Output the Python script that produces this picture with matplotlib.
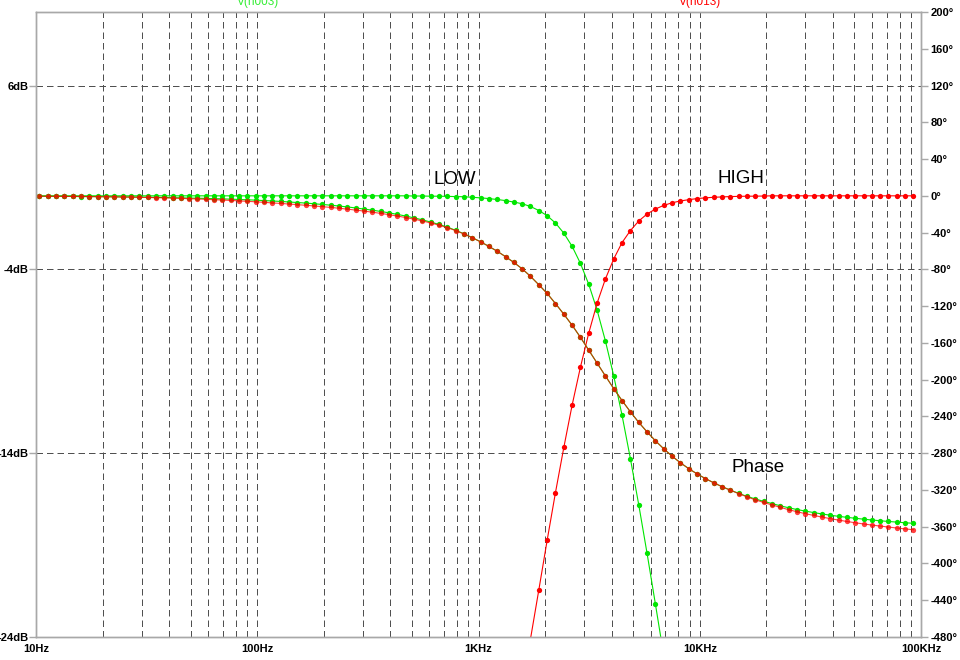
import matplotlib
matplotlib.use("Agg")
import matplotlib.pyplot as plt
from matplotlib.ticker import FixedLocator, NullFormatter

# AC sweep points (8 per octave)
freq_hz = [
    10.35, 11.29, 12.31, 13.42, 14.64, 15.96, 17.41, 18.98,
    20.70, 22.57, 24.62, 26.84, 29.27, 31.92, 34.81, 37.96,
    41.40, 45.15, 49.23, 53.69, 58.55, 63.85, 69.63, 75.93,
    82.80, 90.29, 98.46, 107.4, 117.1, 127.7, 139.3, 151.9,
    165.6, 180.6, 196.9, 214.8, 234.2, 255.4, 278.5, 303.7,
    331.2, 361.2, 393.9, 429.6, 468.4, 510.8, 557.0, 607.4,
    662.4, 722.3, 787.7, 859.1, 936.8, 1022, 1114, 1215,
    1325, 1445, 1575, 1718, 1874, 2043, 2228, 2430,
    2650, 2890, 3151, 3436, 3747, 4086, 4456, 4859,
    5299, 5779, 6302, 6873, 7495, 8172, 8912, 9719,
    10598, 11558, 12604, 13745, 14989, 16345, 17825, 19438,
    21197, 23116, 25208, 27490, 29978, 32690, 35649, 38876,
    42394, 46231, 50416, 54980, 59955, 65380, 71298, 77752,
    84788, 92461,
]

# V(n003) - LOW output magnitude (dB), starts at first sweep point
low_db = [0.0] * 45 + [
    -0.01, -0.01, -0.02, -0.02, -0.03, -0.04, -0.05, -0.08, -0.11, -0.15,
    -0.20, -0.26, -0.34, -0.43, -0.58, -0.80, -1.08, -1.48, -2.03, -2.75,
    -3.68, -4.82, -6.22, -7.90, -9.80, -11.95, -14.30, -16.80, -19.45, -22.20,
    -25.0, -27.9,
]

# V(n013) - HIGH output magnitude (dB), ends at last sweep point
high_db = [
    -26.9, -24.1, -21.43, -18.74, -16.14, -13.69, -11.38, -9.31, -7.46, -5.84,
    -4.52, -3.43, -2.54, -1.89, -1.37, -0.99, -0.72, -0.52, -0.38, -0.28,
    -0.21, -0.15, -0.11, -0.08, -0.06, -0.04, -0.03, -0.02, -0.02, -0.01,
] + [0.0] * 18

# phase (degrees)
low_phase = [
    -0.5, -0.5, -0.6, -0.6, -0.7, -0.8, -0.8, -0.9, -1.0, -1.1,
    -1.2, -1.3, -1.4, -1.5, -1.7, -1.8, -2.0, -2.2, -2.4, -2.6,
    -2.8, -3.1, -3.3, -3.6, -4.0, -4.3, -4.7, -5.2, -5.6, -6.1,
    -6.7, -7.3, -7.9, -8.6, -9.4, -10.2, -11.1, -12.1, -13.2, -14.4,
    -15.6, -17.0, -18.5, -20.2, -22.0, -24.0, -26.1, -28.5, -31.1, -34.0,
    -37.5, -41.3, -45.5, -50.0, -55.0, -60.3, -66.2, -72.5, -79.4, -87.6,
    -96.8, -106.2, -117.2, -128.8, -140.8, -154.0, -168.0, -182.0, -196.0, -209.8,
    -222.8, -235.0, -246.5, -256.8, -266.5, -275.2, -283.2, -290.4, -296.8, -302.5,
    -307.6, -312.2, -316.4, -320.2, -323.7, -327.0, -329.8, -332.4, -334.8, -337.2,
    -339.4, -341.3, -343.0, -344.6, -346.1, -347.5, -348.7, -349.8, -350.8, -351.8,
    -352.7, -353.5, -354.3, -355.0, -355.7, -356.3,
]
high_phase = [
    -0.4, -0.5, -0.5, -0.6, -0.7, -0.7, -0.8, -0.9, -1.0, -1.1,
    -1.3, -1.4, -1.6, -1.8, -2.0, -2.2, -2.5, -2.8, -3.1, -3.4,
    -3.8, -4.2, -4.6, -5.0, -5.5, -6.0, -6.5, -7.1, -7.7, -8.3,
    -8.9, -9.6, -10.3, -11.0, -11.8, -12.6, -13.5, -14.5, -15.5, -16.6,
    -17.8, -19.1, -20.5, -22.0, -23.6, -25.4, -27.3, -29.5, -31.9, -34.6,
    -37.8, -41.5, -45.6, -50.1, -55.0, -60.3, -66.2, -72.5, -79.4, -87.6,
    -96.8, -106.2, -117.2, -128.8, -140.8, -154.0, -168.0, -182.0, -196.0, -209.8,
    -222.8, -235.0, -246.5, -256.8, -266.5, -275.2, -283.2, -290.4, -296.8, -302.5,
    -307.6, -312.2, -316.4, -320.3, -324.0, -327.5, -330.8, -333.6, -336.3, -338.9,
    -341.5, -343.7, -345.8, -347.7, -349.5, -351.2, -352.8, -354.3, -355.7, -357.0,
    -358.2, -359.3, -360.4, -361.4, -362.4, -363.3,
]

x_ticks = [10, 100, 1000, 10000, 100000]
x_labels = ["10Hz", "100Hz", "1KHz", "10KHz", "100KHz"]
db_ticks = [6, -4, -14, -24]
db_labels = ["6dB", "-4dB", "-14dB", "-24dB"]
deg_ticks = [200, 160, 120, 80, 40, 0, -40, -80, -120, -160, -200, -240,
             -280, -320, -360, -400, -440, -480]
deg_labels = [f"{d}\u00b0" for d in deg_ticks]

GREEN = "#00e600"
RED = "#ff0000"
FRAME = "#a8a8a8"
GRID = "#505050"

plt.rcParams['font.family'] = ['Liberation Sans', 'DejaVu Sans']

fig = plt.figure(figsize=(9.6, 6.6), dpi=100)
ax = fig.add_axes([36 / 960, 23 / 660, 885 / 960, 625 / 660])
ax.set_xscale('log')
ax.set_xlim(10, 100000)
ax.set_ylim(-24, 10)

minor = [m * 10 ** e for e in range(1, 5) for m in range(2, 10)]
ax.xaxis.set_major_locator(FixedLocator(x_ticks))
ax.set_xticklabels(x_labels)
ax.xaxis.set_minor_locator(FixedLocator(minor))
ax.xaxis.set_minor_formatter(NullFormatter())
ax.set_yticks(db_ticks, db_labels)

dash = (0, (6.5, 4.0))
ax.grid(which='both', axis='x', color=GRID, lw=0.72, ls=dash)
ax.grid(which='major', axis='y', color=GRID, lw=0.72, ls=dash)

ax.tick_params(axis='x', which='both', length=0, pad=5, labelsize=8)
ax.tick_params(axis='y', length=5, width=1, color=FRAME, pad=0.5, labelsize=8)

ax2 = ax.twinx()
ax2.set_ylim(-480, 200)
ax2.set_yticks(deg_ticks, deg_labels)
ax2.tick_params(axis='y', length=5, width=1, color=FRAME, pad=2, labelsize=8)

for a in (ax, ax2):
    for sp in a.spines.values():
        sp.set_color(FRAME)
        sp.set_linewidth(1.0)

for lab in ax.get_xticklabels() + ax.get_yticklabels() + ax2.get_yticklabels():
    lab.set_fontweight('bold')

# magnitude traces
ax.plot(freq_hz[:len(low_db)], low_db, color=GREEN, lw=0.8,
        marker='o', ms=3.8, mew=0)
ax.plot(freq_hz[-len(high_db):], high_db, color=RED, lw=0.8,
        marker='o', ms=3.8, mew=0)

# phase traces
ax2.plot(freq_hz, low_phase, color=GREEN, lw=0.8, marker='o', ms=3.8, mew=0)
ax2.plot(freq_hz, high_phase, color=RED, lw=0.8, marker='o', ms=3.8, mew=0,
         alpha=0.75)

ax.text(785, 0.9, "LOW", fontsize=13.5, ha='center', va='center')
ax.text(15300, 0.95, "HIGH", fontsize=13.5, ha='center', va='center')
ax.text(18300, -14.8, "Phase", fontsize=13.5, ha='center', va='center')

fig.text(258 / 960, 1 - 5 / 660, "V(n003)", color="#33ee33", fontsize=8.5,
         ha='center', va='baseline')
fig.text(700 / 960, 1 - 5 / 660, "V(n013)", color=RED, fontsize=8.5,
         ha='center', va='baseline')

fig.savefig("out.png", dpi=100)
